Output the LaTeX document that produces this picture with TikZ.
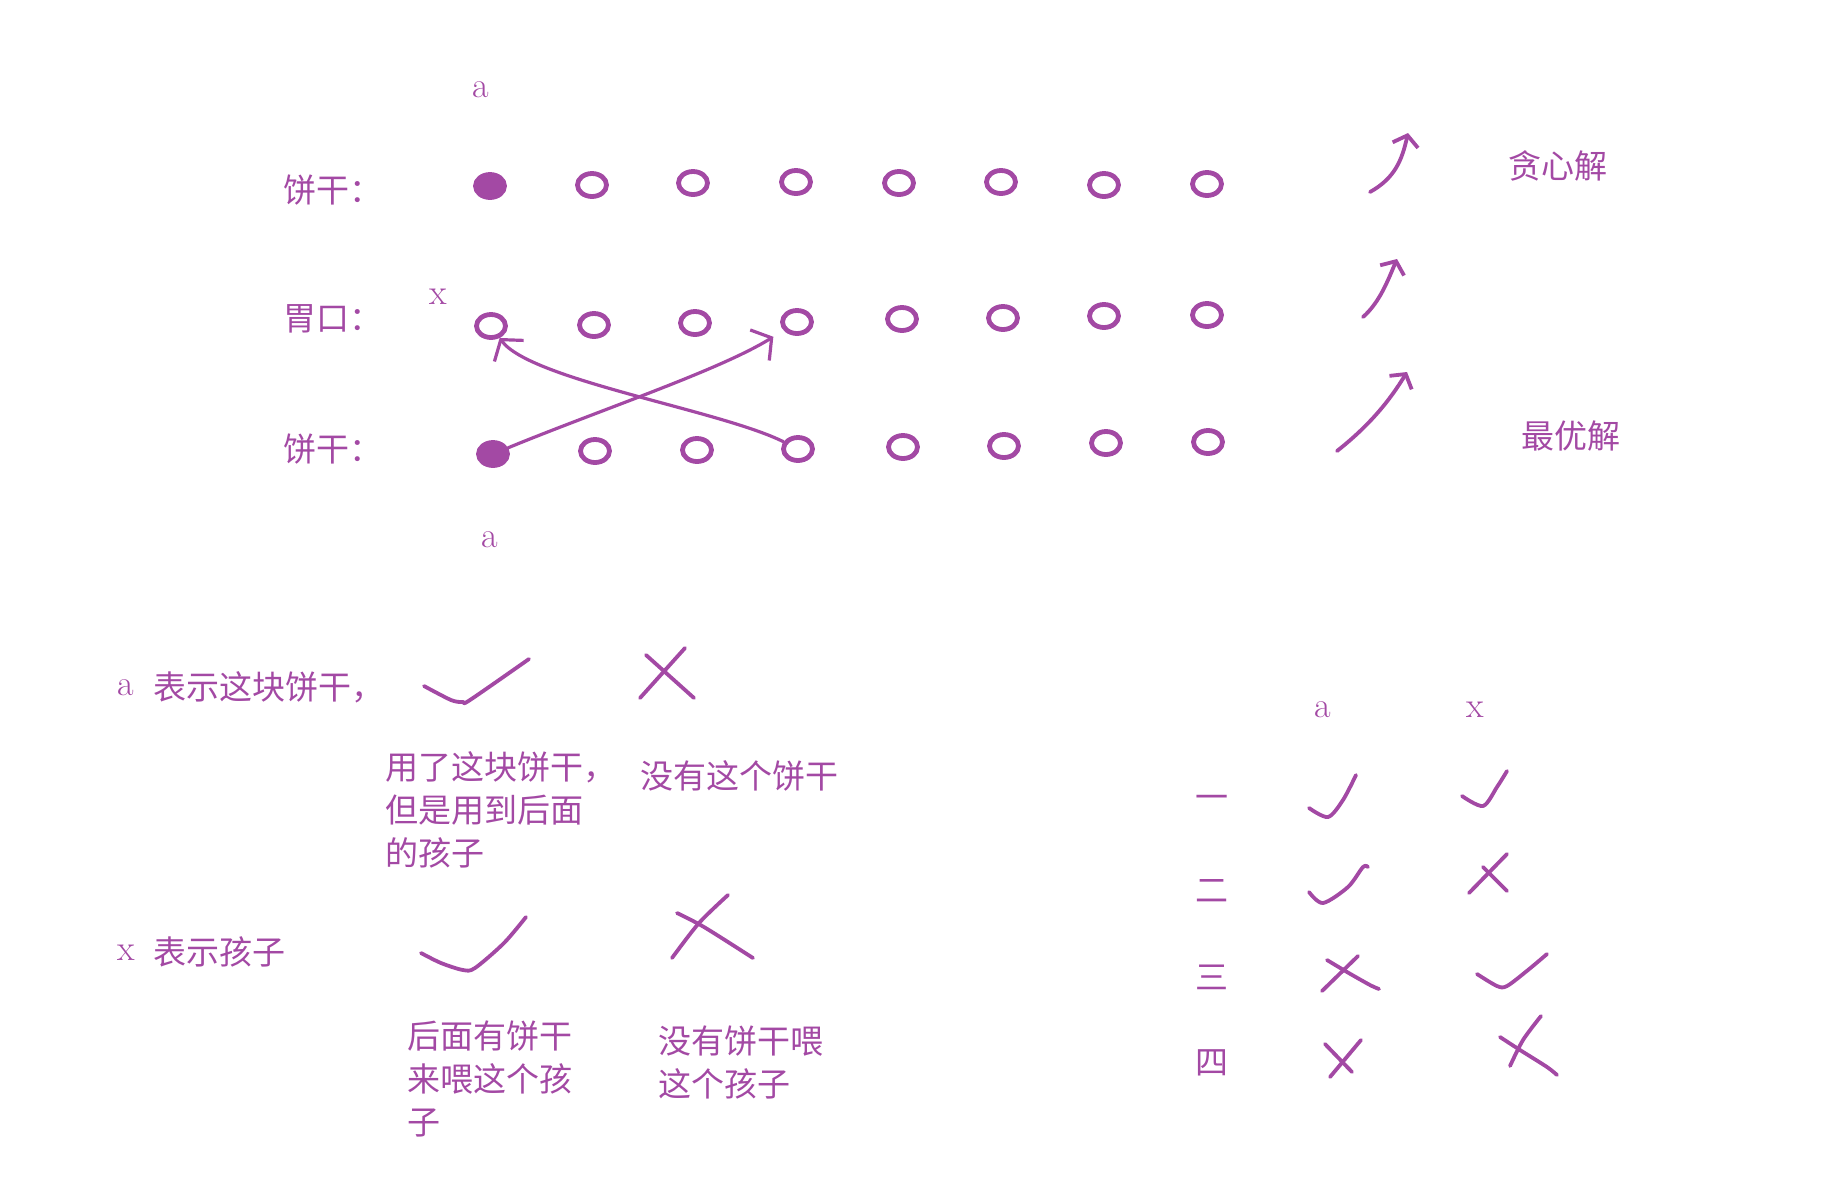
\documentclass[tikz,border=0pt]{standalone}
\usepackage{fontspec}
\usepackage{tikz}
\usetikzlibrary{shapes.geometric,arrows.meta}
\newfontfamily\zh{Noto Sans CJK SC}
\definecolor{paintpurple}{RGB}{163,73,164}
\tikzset{
  ringmark/.style={ellipse,draw=paintpurple,line width=2.4pt,minimum width=14.5pt,minimum height=11.5pt,inner sep=0pt},
  dotmark/.style={ringmark,fill=paintpurple},
  handline/.style={draw=paintpurple,line width=1.9pt,line cap=round,line join=round},
  handarrow/.style={handline,-{Straight Barb[length=5pt,width=13pt]}},
  crossarrow/.style={handline,line width=1.6pt,-{Straight Barb[length=7pt,width=18pt]}},
  zhtext/.style={font=\zh\fontsize{16.5}{21.5}\selectfont,text=paintpurple,inner sep=0pt},
  letter/.style={font=\fontsize{18}{20}\selectfont,text=paintpurple,inner sep=0pt}
}

\begin{document}
\begin{tikzpicture}[x=0.5pt,y=-0.5pt]
  \useasboundingbox (0,0) rectangle (1848,1191);
  % row labels
  \node[letter] (atop) at (481,90) {a};
  \node[zhtext,anchor=west] (cookiesup) at (283,190) {饼干：};
  \node[letter] (xmid) at (438,297) {x};
  \node[zhtext,anchor=west] (stomach) at (283,319) {胃口：};
  \node[zhtext,anchor=west] (cookiesdown) at (283,449) {饼干：};
  \node[letter] (abot) at (490,540) {a};
  % top row of cookies
  \node[dotmark] (b1) at (490,186) {};
  \node[ringmark] (b2) at (592,185) {};
  \node[ringmark] (b3) at (693,183) {};
  \node[ringmark] (b4) at (796,182) {};
  \node[ringmark] (b5) at (899,183) {};
  \node[ringmark] (b6) at (1001,182) {};
  \node[ringmark] (b7) at (1104,185) {};
  \node[ringmark] (b8) at (1207,184) {};
  % children
  \node[ringmark] (w1) at (491,326) {};
  \node[ringmark] (w2) at (594,325) {};
  \node[ringmark] (w3) at (695,323) {};
  \node[ringmark] (w4) at (797,322) {};
  \node[ringmark] (w5) at (902,319) {};
  \node[ringmark] (w6) at (1003,318) {};
  \node[ringmark] (w7) at (1104,316) {};
  \node[ringmark] (w8) at (1207,315) {};
  % bottom row of cookies
  \node[dotmark] (k1) at (493,454) {};
  \node[ringmark] (k2) at (595,451) {};
  \node[ringmark] (k3) at (697,450) {};
  \node[ringmark] (k4) at (798,449) {};
  \node[ringmark] (k5) at (903,447) {};
  \node[ringmark] (k6) at (1004,446) {};
  \node[ringmark] (k7) at (1106,443) {};
  \node[ringmark] (k8) at (1208,442) {};
  % swapped feeding
  \draw[crossarrow,shorten >=6pt] (k1) .. controls (600,410) and (720,370) .. (w4);
  \draw[crossarrow] (k4) .. controls (720,410) and (530,380) .. (w1);
  % greedy vs optimal
  \draw[handarrow] (1370,192) .. controls (1395,178) and (1402,160) .. (1408,133);
  \draw[handarrow] (1363,317) .. controls (1380,302) and (1388,280) .. (1397,259);
  \draw[handarrow] (1337,451) .. controls (1370,425) and (1390,400) .. (1407,372);
  \node[zhtext] (greedy) at (1558,166) {贪心解};
  \node[zhtext] (optimal) at (1571,436) {最优解};
  % legend for a
  \node[letter] (lega) at (126,688) {a};
  \node[zhtext,anchor=west] (legatext) at (153,687) {表示这块饼干，};
  \draw[handline] plot[smooth] coordinates {(424,686) (451,700) (463,702) (470,700) (529,659)};
  \draw[handline] (646,655) -- (694,698);
  \draw[handline] (685,648) -- (640,698);
  \node[zhtext,anchor=west,align=left] (usedlater) at (385,810) {用了这块饼干，\\但是用到后面\\的孩子};
  \node[zhtext,anchor=west] (notused) at (640,776) {没有这个饼干};
  % legend for x
  \node[letter] (legx) at (126,953) {x};
  \node[zhtext,anchor=west] (legxtext) at (153,952) {表示孩子};
  \draw[handline] plot[smooth] coordinates {(421,953) (441,963) (463,970) (475,968) (504,943) (526,917)};
  \draw[handline] plot[smooth] coordinates {(728,895) (699,923) (672,958)};
  \draw[handline] plot[smooth] coordinates {(677,913) (704,927) (753,958)};
  \node[zhtext,anchor=west,align=left] (fedlater) at (407,1079) {后面有饼干\\来喂这个孩\\子};
  \node[zhtext,anchor=west,align=left] (notfed) at (658,1062) {没有饼干喂\\这个孩子};
  % four cases
  \node[letter] (cola) at (1323,710) {a};
  \node[letter] (colx) at (1475,710) {x};
  \node[zhtext] (case1) at (1212,802) {一};
  \node[zhtext] (case2) at (1212,891) {二};
  \node[zhtext] (case3) at (1212,977) {三};
  \node[zhtext] (case4) at (1212,1063) {四};
  \draw[handline] plot[smooth] coordinates {(1309,808) (1328,817) (1343,800) (1356,775)};
  \draw[handline] plot[smooth] coordinates {(1462,796) (1483,806) (1497,787) (1507,771)};
  \draw[handline] plot[smooth] coordinates {(1309,892) (1323,903) (1348,887) (1363,867) (1368,867)};
  \draw[handline] (1469,893) -- (1507,854);
  \draw[handline] (1483,867) -- (1507,891);
  \draw[handline] (1322,991) -- (1358,956);
  \draw[handline] plot[smooth] coordinates {(1327,960) (1347,972) (1370,985) (1379,989)};
  \draw[handline] plot[smooth] coordinates {(1477,974) (1497,986) (1507,986) (1528,970) (1547,954)};
  \draw[handline] (1330,1077) -- (1361,1040);
  \draw[handline] (1325,1044) -- (1352,1072);
  \draw[handline] plot[smooth] coordinates {(1510,1066) (1523,1040) (1541,1016)};
  \draw[handline] plot[smooth] coordinates {(1500,1037) (1520,1050) (1547,1067) (1557,1075)};
\end{tikzpicture}
\end{document}
